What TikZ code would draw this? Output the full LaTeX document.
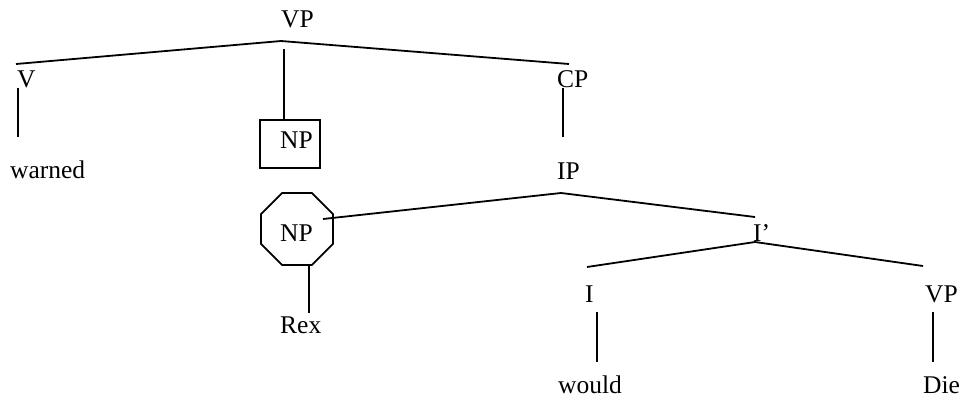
\documentclass[tikz,border=0pt]{standalone}
\usepackage{fontspec}
\setmainfont{Liberation Serif}
\usetikzlibrary{shapes.geometric}
\begin{document}
\begin{tikzpicture}[x=1pt,y=-1pt,
  tag/.style={anchor=base west,inner sep=0pt,font=\fontsize{25.5}{28}\selectfont},
  branch/.style={line width=1.8pt},
  frame/.style={draw,line width=1.8pt,inner sep=0pt}]
\useasboundingbox (0,0) rectangle (963,399);

% words and category labels
\node[tag] (vp)     at (281,27)  {VP};
\node[tag] (v)      at (17,87)   {V};
\node[tag] (warned) at (10,178)  {warned};
\node[tag] (np1)    at (280,148) {NP};
\node[tag] (cp)     at (557,87)  {CP};
\node[tag] (ip)     at (557,179) {IP};
\node[tag] (np2)    at (280,241) {NP};
\node[tag] (rex)    at (280,333) {Rex};
\node[tag] (ibar)   at (753,241) {I'};
\node[tag] (i)      at (585,302) {I};
\node[tag] (vp2)    at (925,302) {VP};
\node[tag] (would)  at (558,393) {would};
\node[tag] (die)    at (923,393) {Die};

% boxed and octagonal frames
\node[frame,minimum width=60pt,minimum height=48pt] (npbox) at (290,144) {};
\node[frame,regular polygon,regular polygon sides=8,minimum size=78pt] (npoct) at (297,229) {};

% branch end points
\coordinate (vp-top)  at (281,41);
\coordinate (v-end)   at (16,64);
\coordinate (cp-end)  at (569,64);
\coordinate (vp-mid)  at (284,49);
\coordinate (np1-top) at (284,120);
\coordinate (v-lo)    at (18,88);
\coordinate (v-hi)    at (18,137);
\coordinate (cp-lo)   at (563,88);
\coordinate (cp-hi)   at (563,137);
\coordinate (ip-top)  at (561,193);
\coordinate (np2-end) at (323,219);
\coordinate (ibar-end) at (755,217);
\coordinate (ibar-top) at (755,242);
\coordinate (i-end)   at (587,267);
\coordinate (vp2-end) at (923,266);
\coordinate (np2-lo)  at (309,265);
\coordinate (rex-hi)  at (309,313);
\coordinate (i-lo)    at (597,312);
\coordinate (would-hi) at (597,362);
\coordinate (vp2-lo)  at (933,312);
\coordinate (die-hi)  at (933,362);

% branches
\draw[branch] (v-end) -- (vp-top) -- (cp-end);
\draw[branch] (vp-mid) -- (np1-top);
\draw[branch] (v-lo) -- (v-hi);
\draw[branch] (cp-lo) -- (cp-hi);
\draw[branch] (np2-end) -- (ip-top) -- (ibar-end);
\draw[branch] (i-end) -- (ibar-top) -- (vp2-end);
\draw[branch] (np2-lo) -- (rex-hi);
\draw[branch] (i-lo) -- (would-hi);
\draw[branch] (vp2-lo) -- (die-hi);
\end{tikzpicture}
\end{document}
